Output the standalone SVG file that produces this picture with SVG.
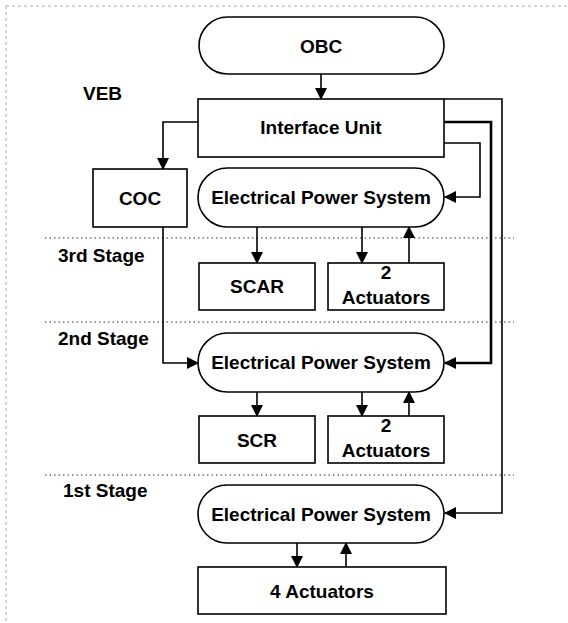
<svg xmlns="http://www.w3.org/2000/svg" width="568" height="623" viewBox="0 0 568 623">
<style>
.box{fill:#fff;stroke:#000;stroke-width:1.6}
.t{font-family:"Liberation Sans",Arial,sans-serif;font-size:19px;font-weight:bold;fill:#000;text-anchor:middle}
.lbl{font-family:"Liberation Sans",Arial,sans-serif;font-size:19px;font-weight:bold;fill:#000}
.c{fill:none;stroke:#000;stroke-width:1.6}
.dot{stroke:#333;stroke-width:1.2;stroke-dasharray:1.5 3}
.frame{stroke:#aaa;stroke-width:1;stroke-dasharray:3 3;fill:none}
</style>
<defs>
<marker id="ah" markerUnits="userSpaceOnUse" markerWidth="12" markerHeight="12" refX="11" refY="6" orient="auto">
<path d="M0,0 L12,6 L0,12 Z" fill="#000"/>
</marker>
</defs>
<rect width="568" height="623" fill="#fff"/>
<path class="frame" d="M6,6 H568 M6,6 V623"/>
<g id="stage-lines">
<line class="dot" x1="45" y1="238" x2="514" y2="238"/>
<line class="dot" x1="45" y1="322" x2="514" y2="322"/>
<line class="dot" x1="45" y1="475" x2="514" y2="475"/>
</g>
<g id="labels">
<text class="lbl" x="83" y="100">VEB</text>
<text class="lbl" x="58" y="262">3rd Stage</text>
<text class="lbl" x="58" y="345">2nd Stage</text>
<text class="lbl" x="63" y="497">1st Stage</text>
</g>
<g id="connectors">
<path class="c" d="M321,74 V99" marker-end="url(#ah)"/>
<path class="c" d="M198,122 H163 V169" marker-end="url(#ah)"/>
<path class="c" d="M163,227 V363 H198" marker-end="url(#ah)"/>
<path class="c" d="M444,99 H502 V513 H445" marker-end="url(#ah)"/>
<path class="c" style="stroke-width:2.6" d="M444,122 H491 V363 H445" marker-end="url(#ah)"/>
<path class="c" d="M444,143 H480 V197 H445" marker-end="url(#ah)"/>
<path class="c" d="M257,227 V263" marker-end="url(#ah)"/>
<path class="c" d="M362,227 V263" marker-end="url(#ah)"/>
<path class="c" d="M409,263 V227" marker-end="url(#ah)"/>
<path class="c" d="M257,392 V416" marker-end="url(#ah)"/>
<path class="c" d="M362,392 V416" marker-end="url(#ah)"/>
<path class="c" d="M409,416 V392" marker-end="url(#ah)"/>
<path class="c" d="M297,543 V567" marker-end="url(#ah)"/>
<path class="c" d="M346,567 V543" marker-end="url(#ah)"/>
</g>
<g id="obc"><rect class="box" x="199" y="17" width="245" height="57" rx="28.5"/><text class="t" x="321" y="53">OBC</text></g>
<g id="interface-unit"><rect class="box" x="198" y="99" width="246" height="58"/><text class="t" x="321" y="134">Interface Unit</text></g>
<g id="coc"><rect class="box" x="93" y="169" width="94" height="58"/><text class="t" x="140" y="205">COC</text></g>
<g id="eps3"><rect class="box" x="198" y="168" width="246" height="59" rx="29.5"/><text class="t" x="321" y="204">Electrical Power System</text></g>
<g id="scar"><rect class="box" x="199" y="263" width="116" height="47"/><text class="t" x="257" y="293">SCAR</text></g>
<g id="act3"><rect class="box" x="328" y="263" width="116" height="47"/><text class="t" x="386" y="279">2</text><text class="t" x="386" y="304">Actuators</text></g>
<g id="eps2"><rect class="box" x="198" y="333" width="246" height="59" rx="29.5"/><text class="t" x="321" y="369">Electrical Power System</text></g>
<g id="scr"><rect class="box" x="199" y="416" width="116" height="47"/><text class="t" x="257" y="447">SCR</text></g>
<g id="act2"><rect class="box" x="328" y="416" width="116" height="47"/><text class="t" x="386" y="432">2</text><text class="t" x="386" y="457">Actuators</text></g>
<g id="eps1"><rect class="box" x="198" y="485" width="246" height="58" rx="29"/><text class="t" x="321" y="521">Electrical Power System</text></g>
<g id="act4"><rect class="box" x="198" y="567" width="248" height="47"/><text class="t" x="322" y="598">4 Actuators</text></g>
</svg>
